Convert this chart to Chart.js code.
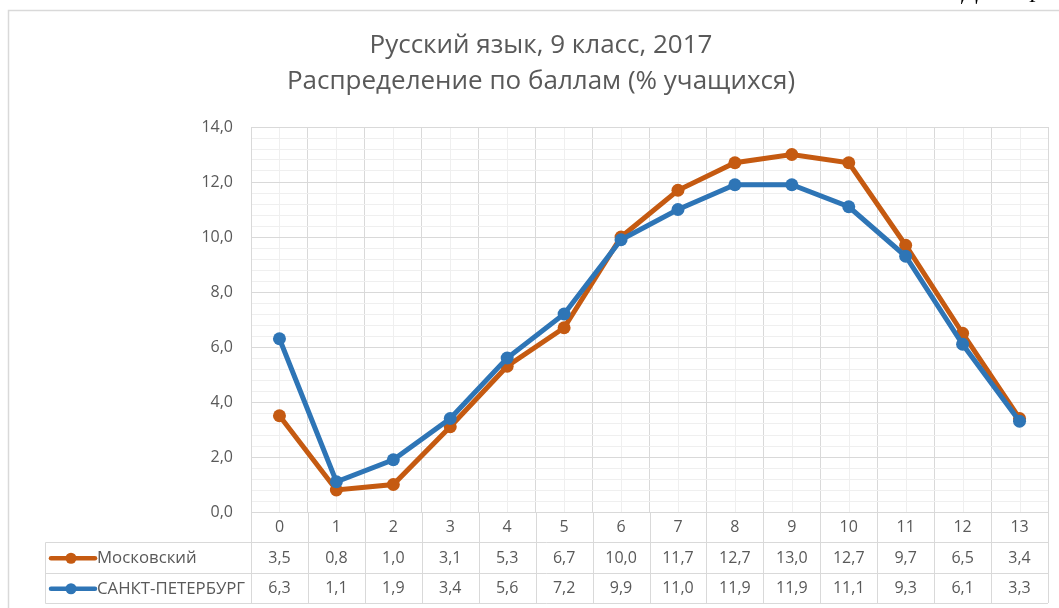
<!DOCTYPE html>
<html lang="ru">
<head>
<meta charset="utf-8">
<title>Русский язык, 9 класс, 2017</title>
<script src="https://cdn.jsdelivr.net/npm/chart.js@4/dist/chart.umd.min.js"></script>
<style>
  html, body { margin: 0; padding: 0; background: #fff; }
  #wrap { position: relative; width: 1059px; height: 608px; overflow: hidden; }
</style>
</head>
<body>
<div id="wrap">
  <canvas id="chart" width="1059" height="608"></canvas>
</div>
<script>
// ---- data ----
const SCORES = ['0', '1', '2', '3', '4', '5', '6', '7', '8', '9', '10', '11', '12', '13'];
const MOSCOW = [3.5, 0.8, 1.0, 3.1, 5.3, 6.7, 10.0, 11.7, 12.7, 13.0, 12.7, 9.7, 6.5, 3.4];
const SPB = [6.3, 1.1, 1.9, 3.4, 5.6, 7.2, 9.9, 11.0, 11.9, 11.9, 11.1, 9.3, 6.1, 3.3];
const SERIES_NAMES = ['Московский', 'САНКТ-ПЕТЕРБУРГ'];
const TITLE_LINES = ['Русский язык, 9 класс, 2017', 'Распределение по баллам (% учащихся)'];

const ORANGE = '#C55A11';
const BLUE = '#2E75B6';
const TEXT = '#595959';
const GRID = '#d9d9d9';
const GRID_MINOR = '#efefef';
const FONT = '"Open Sans", "Noto Sans", sans-serif';

const fmt = v => v.toFixed(1).replace('.', ',');

// Excel-style data table under the plot, plus minor grid and frame
const tablePlugin = {
  id: 'dataTable',
  beforeDraw(chart) {
    const { ctx, chartArea: a, scales: { x } } = chart;
    ctx.save();
    ctx.fillStyle = '#fff';
    ctx.fillRect(0, 0, chart.width, chart.height);
    // minor vertical lines at category centers
    ctx.strokeStyle = GRID_MINOR;
    ctx.lineWidth = 1;
    SCORES.forEach((_, i) => {
      const px = Math.round(x.getPixelForValue(i)) + 0.5;
      ctx.beginPath();
      ctx.moveTo(px, a.top);
      ctx.lineTo(px, a.bottom);
      ctx.stroke();
    });
    ctx.restore();
  },
  afterDraw(chart) {
    const { ctx, chartArea: a, scales: { x } } = chart;
    const step = x.width / SCORES.length;
    const rowTop = a.bottom + 30;
    const rowH = 30.5;
    const legendLeft = 45.5;
    const rows = [
      { name: SERIES_NAMES[0], color: ORANGE, values: MOSCOW },
      { name: SERIES_NAMES[1], color: BLUE, values: SPB }
    ];
    ctx.save();
    ctx.strokeStyle = GRID;
    ctx.lineWidth = 1;

    // horizontal table lines
    [rowTop, rowTop + rowH, rowTop + 2 * rowH].forEach(y => {
      const py = Math.round(y) + 0.5;
      ctx.beginPath();
      ctx.moveTo(legendLeft, py);
      ctx.lineTo(a.right, py);
      ctx.stroke();
    });
    // vertical column borders through label row and table
    for (let i = 0; i <= SCORES.length; i++) {
      const px = Math.round(a.left + i * step) + 0.5;
      ctx.beginPath();
      ctx.moveTo(px, a.bottom);
      ctx.lineTo(px, rowTop + 2 * rowH);
      ctx.stroke();
    }
    // legend column left border
    ctx.beginPath();
    ctx.moveTo(legendLeft, Math.round(rowTop) + 0.5);
    ctx.lineTo(legendLeft, Math.round(rowTop + 2 * rowH) + 0.5);
    ctx.stroke();

    // row contents
    ctx.textBaseline = 'middle';
    rows.forEach((r, ri) => {
      const cy = rowTop + rowH * ri + rowH / 2 + 1;
      // legend key
      ctx.strokeStyle = r.color;
      ctx.lineWidth = 4.5;
      ctx.lineCap = 'round';
      ctx.beginPath();
      ctx.moveTo(51, cy);
      ctx.lineTo(95, cy);
      ctx.stroke();
      ctx.fillStyle = r.color;
      ctx.beginPath();
      ctx.arc(71, cy, 5.5, 0, Math.PI * 2);
      ctx.fill();
      ctx.fillStyle = TEXT;
      ctx.textAlign = 'left';
      ctx.font = '16.8px ' + FONT;
      ctx.fillText(r.name, 97, cy);
      // values
      ctx.font = '16px ' + FONT;
      ctx.textAlign = 'center';
      r.values.forEach((v, i) => {
        ctx.fillText(fmt(v), x.getPixelForValue(i), cy);
      });
    });

    // outer chart frame
    ctx.strokeStyle = GRID;
    ctx.lineWidth = 1.5;
    ctx.lineCap = 'butt';
    ctx.beginPath();
    ctx.moveTo(8.5, chart.height);
    ctx.lineTo(8.5, 10.5);
    ctx.lineTo(chart.width, 10.5);
    ctx.stroke();

    // cut-off page text above the chart
    ctx.fillStyle = '#000';
    ctx.font = 'italic 26px "Liberation Serif", serif';
    ctx.textAlign = 'left';
    ctx.textBaseline = 'alphabetic';
    ctx.fillText('Д', 963, -1);
    ctx.fillText('р', 1031, -3);
    ctx.restore();
  }
};

new Chart(document.getElementById('chart'), {
  type: 'line',
  data: {
    labels: SCORES,
    datasets: [
      {
        label: SERIES_NAMES[0],
        data: MOSCOW,
        borderColor: ORANGE,
        backgroundColor: ORANGE,
        borderWidth: 5,
        pointRadius: 6.5,
        pointBorderWidth: 0,
        pointBackgroundColor: ORANGE,
        tension: 0,
        order: 1
      },
      {
        label: SERIES_NAMES[1],
        data: SPB,
        borderColor: BLUE,
        backgroundColor: BLUE,
        borderWidth: 5,
        pointRadius: 6.5,
        pointBorderWidth: 0,
        pointBackgroundColor: BLUE,
        tension: 0,
        order: 0
      }
    ]
  },
  options: {
    responsive: false,
    animation: false,
    devicePixelRatio: 1,
    layout: { padding: { left: 34, right: 11, top: 0, bottom: 0 } },
    plugins: {
      legend: { display: false },
      tooltip: { enabled: false },
      title: {
        display: true,
        text: TITLE_LINES,
        color: TEXT,
        font: { family: FONT, size: 26, weight: 'normal', lineHeight: 36 / 26 },
        padding: { top: 28, bottom: 27 }
      }
    },
    scales: {
      x: {
        offset: true,
        grid: { offset: true, color: GRID, drawTicks: false },
        border: { color: GRID },
        ticks: { color: TEXT, font: { family: FONT, size: 16 }, padding: 6, autoSkip: false, maxRotation: 0 },
        afterFit(scale) { scale.height = 96; }
      },
      y: {
        min: 0,
        max: 14,
        grid: {
          drawTicks: false,
          color: c => (Math.abs(c.tick.value / 2 - Math.round(c.tick.value / 2)) < 1e-6 ? GRID : GRID_MINOR)
        },
        border: { color: GRID },
        ticks: {
          stepSize: 0.4,
          autoSkip: false,
          color: TEXT,
          padding: 18,
          font: { family: FONT, size: 16 },
          callback: v => (Math.abs(v / 2 - Math.round(v / 2)) < 1e-6 ? fmt(v) : '')
        },
        afterFit(scale) { scale.width = 217; }
      }
    }
  },
  plugins: [tablePlugin]
});
</script>
</body>
</html>
